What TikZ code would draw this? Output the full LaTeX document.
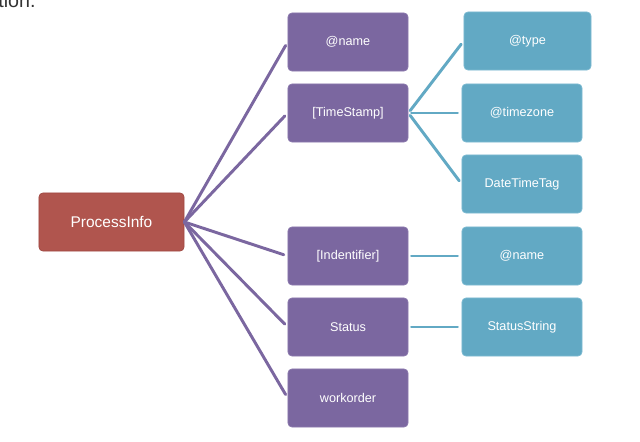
\documentclass[tikz,border=0pt]{standalone}
\usepackage{fontspec}
\setmainfont{Liberation Sans}
\usetikzlibrary{calc}
\definecolor{rootred}{HTML}{B0554E}
\definecolor{rootedge}{HTML}{A04842}
\definecolor{elempurple}{HTML}{7B67A0}
\definecolor{elemedge}{HTML}{8A78AC}
\definecolor{attrblue}{HTML}{62A9C4}
\definecolor{attredge}{HTML}{7DBAD1}
\definecolor{textgray}{HTML}{333333}
\tikzset{
  every node/.style={text=white},
  box/.style={rectangle, rounded corners=0.1cm, minimum height=1.45cm, line width=0.5pt, font=\fontsize{9}{11}\selectfont},
  rootbox/.style={box, fill=rootred, draw=rootedge, minimum width=3.625cm, font=\fontsize{11}{13}\selectfont},
  elembox/.style={box, fill=elempurple, draw=elemedge, minimum width=3cm},
  attrbox/.style={box, fill=attrblue, draw=attredge, minimum width=3cm},
  elemlink/.style={draw=elempurple, line width=2.1pt, shorten >=0.1cm},
  attrlink/.style={draw=attrblue, line width=2.1pt, shorten <=0.075cm, shorten >=0.1cm}
}
\begin{document}
\begin{tikzpicture}[line cap=round,line join=round,x=0.025cm,y=-0.025cm]
\useasboundingbox (0,0) rectangle (640,442);
\clip (0,0) rectangle (640,442);
\node[anchor=base west, text=textgray, font=\fontsize{14}{16}\selectfont, inner sep=0pt] (head) at (-2,7) {tion.};
% root
\node[rootbox] (proc) at (111.5,222) {ProcessInfo};
% elements
\node[elembox] (pname) at (348,42) {@name};
\node[elembox] (pts) at (348,113) {[TimeStamp]};
\node[elembox] (pid) at (348,256) {[Indentifier]};
\node[elembox] (pstat) at (348,327) {Status};
\node[elembox] (pwo) at (348,398) {workorder};
% attributes
\node[attrbox, minimum width=3.175cm] (btype) at (527.5,41) {@type};
\node[attrbox] (btz) at (522,113) {@timezone};
\node[attrbox] (bdtt) at (522,184) {DateTimeTag};
\node[attrbox] (bname) at (522,256) {@name};
\node[attrbox] (bss) at (522,327) {StatusString};
% links
\foreach \e in {pname,pts,pid,pstat,pwo}
  \draw[elemlink] (proc.east) -- (\e.west);
\foreach \a in {btype,btz,bdtt}
  \draw[attrlink] (pts.east) -- (\a.west);
\draw[attrlink] (pid.east) -- (bname.west);
\draw[attrlink] (pstat.east) -- (bss.west);
\end{tikzpicture}
\end{document}
